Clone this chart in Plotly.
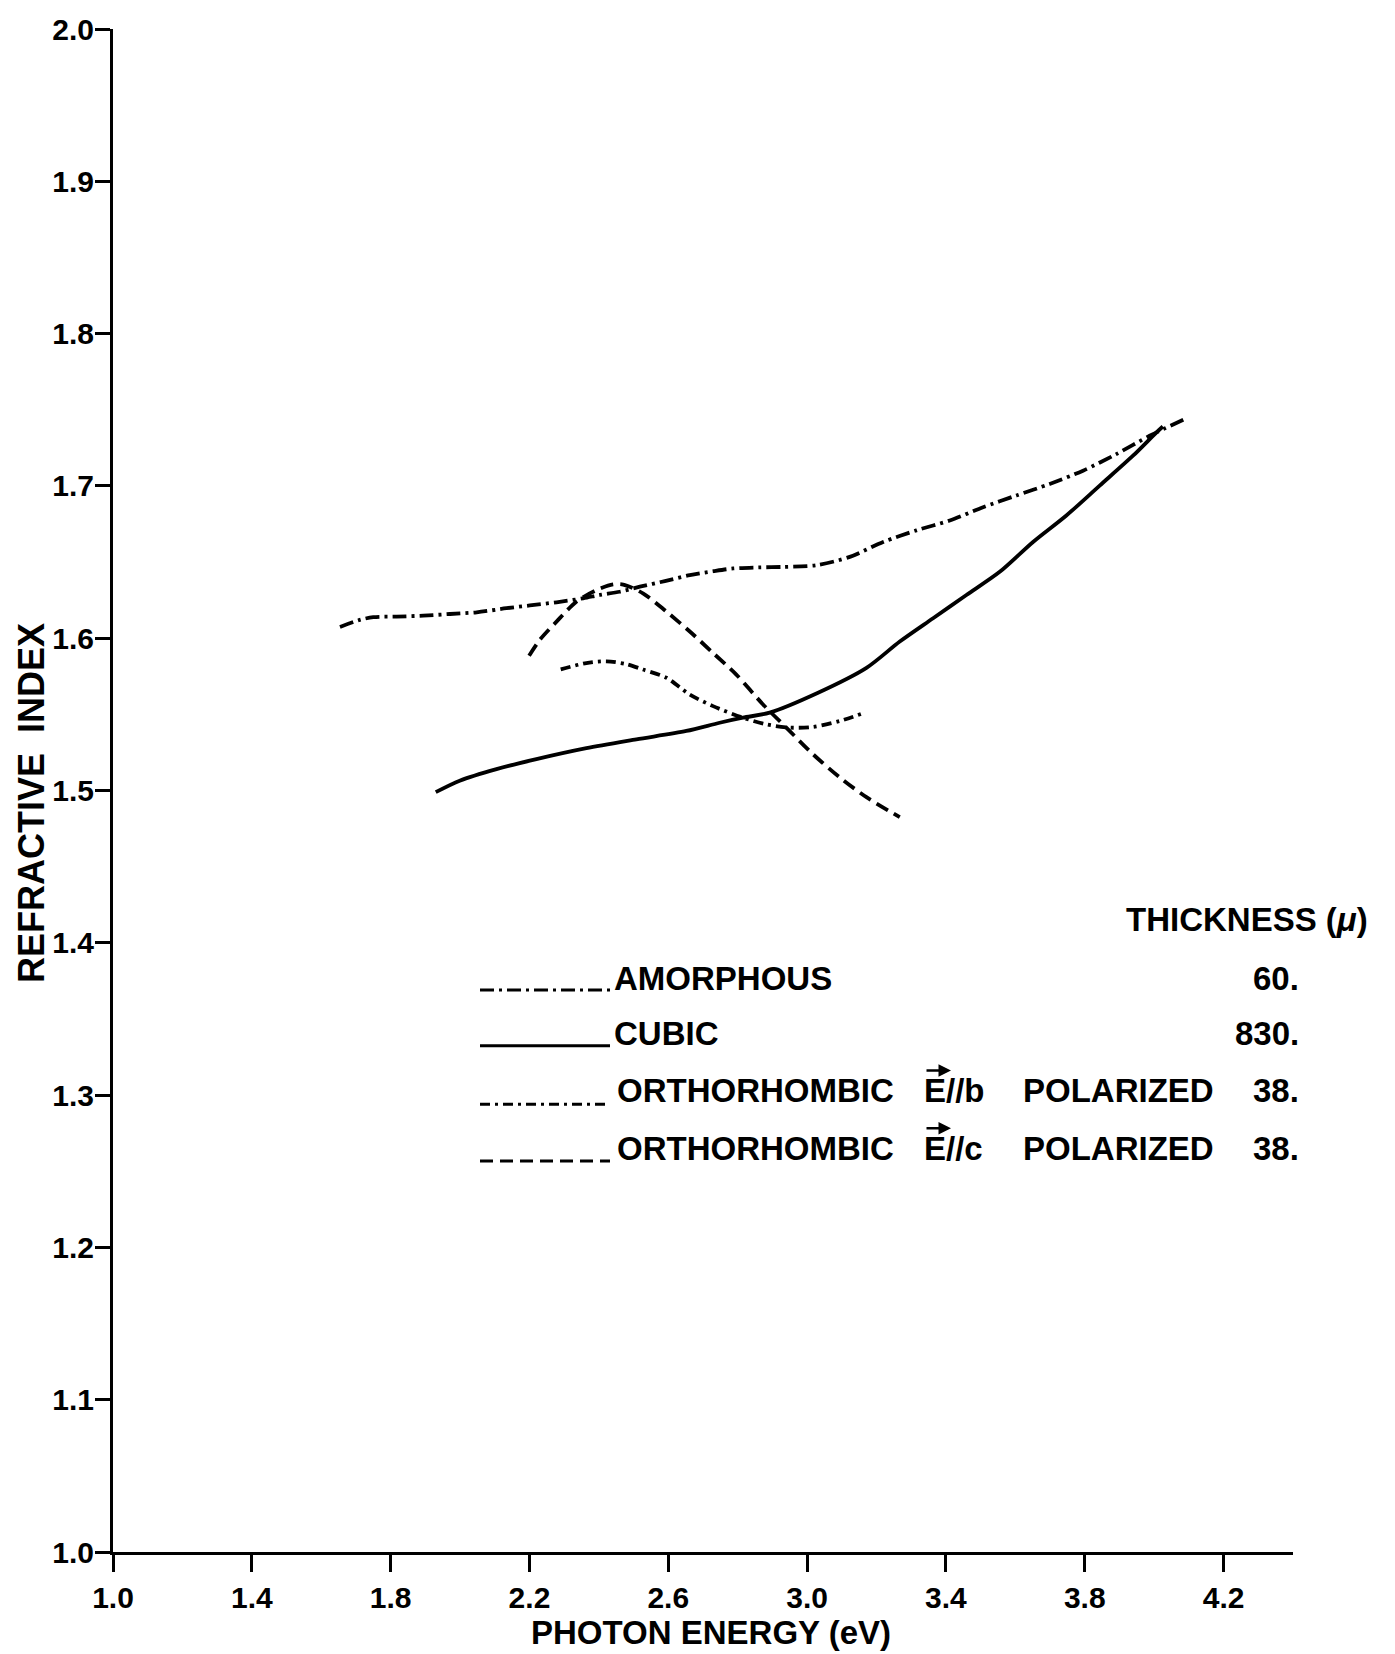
import plotly.graph_objects as go

# ---------------- data ----------------
amorphous_x = [1.654, 1.711, 1.750, 1.817, 1.894, 1.971, 2.048, 2.134, 2.201, 2.278,
               2.355, 2.403, 2.460, 2.518, 2.590, 2.662, 2.730, 2.787, 2.860, 2.931,
               3.027, 3.123, 3.219, 3.315, 3.411, 3.507, 3.603, 3.699, 3.795, 3.891,
               3.987, 4.085]
amorphous_y = [1.6074, 1.6120, 1.6138, 1.6142, 1.6148, 1.6159, 1.6170, 1.6197, 1.6215, 1.6236,
               1.6262, 1.6284, 1.6305, 1.6338, 1.6375, 1.6414, 1.6440, 1.6458, 1.6465, 1.6468,
               1.6479, 1.6534, 1.6632, 1.6708, 1.6773, 1.6860, 1.6937, 1.7013, 1.7100, 1.7209,
               1.7329, 1.7436]

cubic_x = [1.930, 1.999, 2.105, 2.220, 2.364, 2.508, 2.652, 2.748, 2.815, 2.892,
           3.030, 3.171, 3.267, 3.363, 3.459, 3.555, 3.651, 3.747, 3.843, 3.939,
           4.006, 4.025]
cubic_y = [1.4989, 1.5064, 1.5140, 1.5206, 1.5278, 1.5336, 1.5391, 1.5445, 1.5478, 1.5511,
           1.5640, 1.5805, 1.5978, 1.6131, 1.6284, 1.6436, 1.6632, 1.6806, 1.7002, 1.7198,
           1.7350, 1.7390]

ortho_b_x = [2.290, 2.364, 2.422, 2.479, 2.527, 2.595, 2.662, 2.729, 2.815, 2.883,
             2.950, 3.017, 3.094, 3.160]
ortho_b_y = [1.5795, 1.5837, 1.5848, 1.5830, 1.5794, 1.5740, 1.5630, 1.5554, 1.5478, 1.5434,
             1.5413, 1.5417, 1.5456, 1.5506]

ortho_c_x = [2.199, 2.230, 2.278, 2.335, 2.393, 2.441, 2.470, 2.527, 2.595, 2.662,
             2.729, 2.796, 2.873, 2.940, 3.017, 3.094, 3.171, 3.267]
ortho_c_y = [1.5885, 1.5990, 1.6109, 1.6240, 1.6316, 1.6353, 1.6352, 1.6295, 1.6174, 1.6044,
             1.5903, 1.5761, 1.5565, 1.5413, 1.5238, 1.5086, 1.4956, 1.4825]

x_ticks = [1.0, 1.4, 1.8, 2.2, 2.6, 3.0, 3.4, 3.8, 4.2]
x_tick_labels = ["1.0", "1.4", "1.8", "2.2", "2.6", "3.0", "3.4", "3.8", "4.2"]
y_ticks = [1.0, 1.1, 1.2, 1.3, 1.4, 1.5, 1.6, 1.7, 1.8, 1.9, 2.0]
y_tick_labels = ["1.0", "1.1", "1.2", "1.3", "1.4", "1.5", "1.6", "1.7", "1.8", "1.9", "2.0"]

series_names = ["AMORPHOUS", "CUBIC", "ORTHORHOMBIC E//b POLARIZED", "ORTHORHOMBIC E//c POLARIZED"]
thickness = ["60.", "830.", "38.", "38."]

# ---------------- styles ----------------
FONT = "Liberation Sans, Arial, Helvetica, sans-serif"
DASH_AMORPH = "14px,5px,3px,5px"
DASH_B = "10px,5px,3px,5px"
DASH_C = "13px,7px"
LW = 3.8

fig = go.Figure()
fig.add_trace(go.Scatter(x=amorphous_x, y=amorphous_y, mode="lines", name=series_names[0],
                         line=dict(color="black", width=LW, dash=DASH_AMORPH, shape="spline", smoothing=0.8)))
fig.add_trace(go.Scatter(x=cubic_x, y=cubic_y, mode="lines", name=series_names[1],
                         line=dict(color="black", width=LW, shape="spline", smoothing=0.8)))
fig.add_trace(go.Scatter(x=ortho_b_x, y=ortho_b_y, mode="lines", name=series_names[2],
                         line=dict(color="black", width=LW, dash=DASH_B, shape="spline", smoothing=0.8)))
fig.add_trace(go.Scatter(x=ortho_c_x, y=ortho_c_y, mode="lines", name=series_names[3],
                         line=dict(color="black", width=LW, dash=DASH_C, shape="spline", smoothing=0.8)))

W, H = 1395, 1654
ML, MR, MT, MB = 113, 102, 21, 102
PW, PH = W - ML - MR, H - MT - MB


def px(fx):
    return (fx - ML) / PW


def py(fy):
    return (H - MB - fy) / PH


annotations = []
shapes = []


def txt(s, fx, fy, size=33, anchor="left"):
    annotations.append(dict(text=s, x=px(fx), y=py(fy), xref="paper", yref="paper",
                            xanchor=anchor, yanchor="middle", showarrow=False,
                            font=dict(family=FONT, size=size, color="black", weight="bold")))


# axis titles
annotations.append(dict(text="PHOTON ENERGY (eV)", x=px(711), y=py(1633), xref="paper", yref="paper",
                        xanchor="center", yanchor="middle", showarrow=False,
                        font=dict(family=FONT, size=33, color="black", weight="bold")))
annotations.append(dict(text="REFRACTIVE  INDEX", x=px(32), y=py(799), xref="paper", yref="paper",
                        xanchor="center", yanchor="middle", showarrow=False, textangle=-90,
                        font=dict(family=FONT, size=36, color="black", weight="bold")))

# legend block
txt("THICKNESS (<i>\u03bc</i>)", 1124, 916)
rows_y = [975, 1031, 1088, 1146]
line_y = [987, 1043, 1102, 1159]
dashes = [DASH_AMORPH, "solid", DASH_B, DASH_C]
txt("AMORPHOUS", 612, rows_y[0])
txt("CUBIC", 612, rows_y[1])
for i, pol in [(2, "b"), (3, "c")]:
    txt("ORTHORHOMBIC", 615, rows_y[i])
    txt("E//" + pol, 922, rows_y[i])
    # vector arrow above the E (arrow-only annotation, no text)
    annotations.append(dict(text="", x=px(951), y=py(rows_y[i] - 20), xref="paper", yref="paper",
                            showarrow=True, ax=-26, ay=0, arrowhead=2, arrowsize=1,
                            arrowwidth=2.5, arrowcolor="black", standoff=0))
    txt("POLARIZED", 1021, rows_y[i])
for i in range(4):
    txt(thickness[i], 1301, rows_y[i], anchor="right")
    shapes.append(dict(type="line", xref="paper", yref="paper",
                       x0=px(480), x1=px(610), y0=py(line_y[i]), y1=py(line_y[i]),
                       line=dict(color="black", width=3, dash=dashes[i])))

fig.update_layout(
    width=W, height=H,
    margin=dict(l=ML, r=MR, t=MT, b=MB),
    paper_bgcolor="white", plot_bgcolor="white",
    showlegend=False,
    font=dict(family=FONT, color="black"),
    annotations=annotations,
    shapes=shapes,
)
fig.update_xaxes(range=[1.0, 4.4], tickvals=x_ticks, ticktext=x_tick_labels,
                 showline=True, linecolor="black", linewidth=3,
                 ticks="outside", ticklen=17, tickwidth=3, tickcolor="black",
                 showgrid=False, zeroline=False,
                 tickfont=dict(family=FONT, size=30, color="black", weight="bold"))
fig.update_yaxes(range=[1.0, 2.0], tickvals=y_ticks, ticktext=y_tick_labels,
                 showline=True, linecolor="black", linewidth=3,
                 ticks="outside", ticklen=15, tickwidth=3, tickcolor="black",
                 ticklabelstandoff=-5,
                 showgrid=False, zeroline=False,
                 tickfont=dict(family=FONT, size=30, color="black", weight="bold"))

fig.write_html("out.html")
